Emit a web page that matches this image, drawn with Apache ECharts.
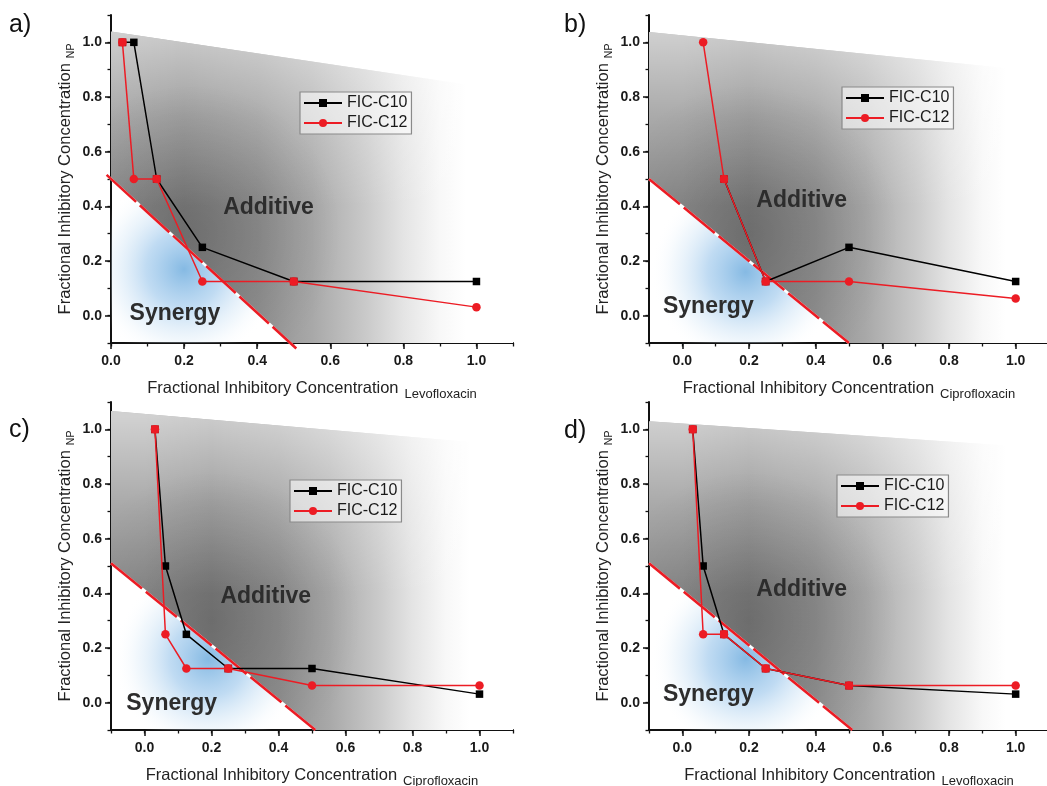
<!DOCTYPE html>
<html><head><meta charset="utf-8">
<script src="https://cdn.jsdelivr.net/npm/echarts@6/dist/echarts.min.js"></script>
<style>html,body{margin:0;padding:0;background:#fff}#chart{width:1047px;height:786px}</style>
</head><body><div id="chart"></div>
<script>
const FONT = 'Arial, "Liberation Sans", sans-serif';
// ---------- data ----------
const panelLabels = ['a)', 'b)', 'c)', 'd)'];
const xDrugs = ['Levofloxacin', 'Ciprofloxacin', 'Ciprofloxacin', 'Levofloxacin'];
const yDrug = 'NP';
const seriesNames = ['FIC-C10', 'FIC-C12'];
const tickValues = [0, 0.2, 0.4, 0.6, 0.8, 1.0];
const xMins = [0, -0.1, -0.1, -0.1];
const aC10 = [[0.03125, 1.0], [0.0625, 1.0], [0.125, 0.5], [0.25, 0.25], [0.5, 0.125], [1.0, 0.125]];
const aC12 = [[0.03125, 1.0], [0.0625, 0.5], [0.125, 0.5], [0.25, 0.125], [0.5, 0.125], [1.0, 0.03125]];
const bC10 = [[0.125, 0.5], [0.25, 0.125], [0.5, 0.25], [1.0, 0.125]];
const bC12 = [[0.0625, 1.0], [0.125, 0.5], [0.25, 0.125], [0.5, 0.125], [1.0, 0.0625]];
const cC10 = [[0.03125, 1.0], [0.0625, 0.5], [0.125, 0.25], [0.25, 0.125], [0.5, 0.125], [1.0, 0.03125]];
const cC12 = [[0.03125, 1.0], [0.0625, 0.25], [0.125, 0.125], [0.25, 0.125], [0.5, 0.0625], [1.0, 0.0625]];
const dC10 = [[0.03125, 1.0], [0.0625, 0.5], [0.125, 0.25], [0.25, 0.125], [0.5, 0.0625], [1.0, 0.03125]];
const dC12 = [[0.03125, 1.0], [0.0625, 0.25], [0.125, 0.25], [0.25, 0.125], [0.5, 0.0625], [1.0, 0.0625]];
const panelC10 = [aC10, bC10, cC10, dC10];
const panelC12 = [aC12, bC12, cC12, dC12];

// ---------- layout / decoration ----------
const grids = [
  {left: 111, top: 15, width: 402, height: 328},
  {left: 649, top: 15, width: 400, height: 328},
  {left: 111, top: 402, width: 402, height: 328},
  {left: 649, top: 402, width: 400, height: 328}
];
const legendPos = [[300, 92], [842, 87], [290, 480], [837, 475]];
const letterPos = [[9, 25], [564, 25], [9, 430], [564, 431]];
const decor = [
  {top: [1.04, 0.82], dash: [[-0.012, 0.515], [0.507, -0.12]], additive: [0.431, 0.394], synergy: [0.175, 0.006], dark: [0.22, 0.3], blue: [0.2, 0.17]},
  {top: [1.038, 0.89], dash: [[-0.1, 0.5], [0.5, -0.1]], additive: [0.358, 0.421], synergy: [0.078, 0.032], dark: [0.2, 0.3], blue: [0.19, 0.16]},
  {top: [1.067, 0.94], dash: [[-0.1, 0.51], [0.51, -0.1]], additive: [0.362, 0.387], synergy: [0.081, -0.002], dark: [0.2, 0.3], blue: [0.19, 0.16]},
  {top: [1.03, 0.93], dash: [[-0.1, 0.51], [0.51, -0.1]], additive: [0.358, 0.415], synergy: [0.078, 0.028], dark: [0.2, 0.3], blue: [0.19, 0.16]}
];
const RED = '#ec1c24';

function bgRender(g) {
  return function (params, api) {
    const d = decor[g], xmin = xMins[g], xmax = 1.1, ymin = -0.1;
    const P = (x, y) => api.coord([x, y]);
    const [[dx0, dy0], [dx1, dy1]] = d.dash;
    const slope = (dy1 - dy0) / (dx1 - dx0);
    const yAtXmin = dy0 + slope * (xmin - dx0);
    const xAtYmin = dx0 + (ymin - dy0) / slope;
    const grayPts = [P(xmin, d.top[0]), P(xmax, d.top[1]), P(xmax, ymin), P(xAtYmin, ymin), P(xmin, yAtXmin)];
    const bluePts = [P(xmin, yAtXmin), P(xAtYmin, ymin), P(xmin, ymin)];
    const x0 = P(0, 0)[0], x1 = P(1, 0)[0];
    const yTop = P(0, 1.05)[1], yMid = P(0, 0.4)[1];
    const dk = P(d.dark[0], d.dark[1]);
    const bl = P(d.blue[0], d.blue[1]);
    const p0 = P(dx0, dy0), p1 = P(dx1, dy1);
    const ad = P(d.additive[0], d.additive[1]);
    const sy = P(d.synergy[0], d.synergy[1]);
    return {
      type: 'group',
      children: [
        {type: 'polygon', shape: {points: grayPts}, style: {fill: {type: 'linear', x: x0, y: 0, x2: x1, y2: 0, global: true,
          colorStops: [
            {offset: 0, color: '#8d8d8d'}, {offset: 0.2, color: '#808080'}, {offset: 0.4, color: '#909090'},
            {offset: 0.55, color: '#a8a8a8'}, {offset: 0.7, color: '#cacaca'}, {offset: 0.8, color: '#e4e4e4'},
            {offset: 0.9, color: '#f8f8f8'}, {offset: 0.97, color: '#ffffff'}]}}},
        {type: 'polygon', shape: {points: grayPts}, style: {fill: {type: 'linear', x: 0, y: yTop, x2: 0, y2: yMid, global: true,
          colorStops: [{offset: 0, color: 'rgba(255,255,255,0.6)'}, {offset: 0.5, color: 'rgba(255,255,255,0.25)'}, {offset: 1, color: 'rgba(255,255,255,0)'}]}}},
        {type: 'polygon', shape: {points: grayPts}, style: {fill: {type: 'radial', x: dk[0], y: dk[1], r: 150, global: true,
          colorStops: [{offset: 0, color: 'rgba(0,0,0,0.15)'}, {offset: 1, color: 'rgba(0,0,0,0)'}]}}},
        {type: 'polygon', shape: {points: bluePts}, style: {fill: {type: 'radial', x: bl[0], y: bl[1], r: 95, global: true,
          colorStops: [{offset: 0, color: 'rgba(120,178,224,0.9)'}, {offset: 0.4, color: 'rgba(158,200,236,0.65)'},
            {offset: 0.75, color: 'rgba(210,230,246,0.3)'}, {offset: 1, color: 'rgba(255,255,255,0)'}]}}},
        {type: 'line', shape: {x1: p0[0], y1: p0[1], x2: p1[0], y2: p1[1]}, style: {stroke: '#ffffff', lineWidth: 2.6}},
        {type: 'line', shape: {x1: p0[0], y1: p0[1], x2: p1[0], y2: p1[1]}, style: {stroke: RED, lineWidth: 2.6, lineDash: [40, 5]}},
        {type: 'text', style: {text: 'Additive', x: ad[0], y: ad[1], align: 'center', verticalAlign: 'middle', font: 'bold 23px ' + FONT, fill: '#2d2d2d'}},
        {type: 'text', style: {text: 'Synergy', x: sy[0], y: sy[1], align: 'center', verticalAlign: 'middle', font: 'bold 23px ' + FONT, fill: '#2d2d2d'}}
      ]
    };
  };
}

function sameKey(p) { return p[0] + ',' + p[1]; }

const xAxis = [], yAxis = [], series = [], legend = [], graphic = [];
for (let g = 0; g < 4; g++) {
  const nameRich = {
    m: {fontSize: 16.5, fontFamily: FONT, color: '#222'},
    s: {fontSize: 13, fontFamily: FONT, color: '#222', padding: [12, 0, 0, 6]}
  };
  const nameRichY = {
    m: {fontSize: 16.5, fontFamily: FONT, color: '#222'},
    s: {fontSize: 10.5, fontFamily: FONT, color: '#222', padding: [12, 0, 0, 5]}
  };
  const labelStyle = {customValues: tickValues, formatter: v => v.toFixed(1), color: '#1a1a1a', fontSize: 14, fontWeight: 'bold', fontFamily: FONT};
  xAxis.push({
    gridIndex: g, type: 'value', min: xMins[g], max: 1.1, position: 'bottom',
    axisLine: {show: true, onZero: false, lineStyle: {color: '#111', width: 2}},
    axisTick: {show: true, customValues: tickValues, length: 6, lineStyle: {color: '#111', width: 1.5}},
    axisLabel: Object.assign({margin: 11}, labelStyle),
    splitLine: {show: false},
    name: '{m|Fractional Inhibitory Concentration}{s|' + xDrugs[g] + '}',
    nameLocation: 'middle', nameGap: 33, nameMoveOverlap: false,
    nameTextStyle: {rich: nameRich}
  });
  xAxis.push({
    gridIndex: g, type: 'value', min: xMins[g], max: 1.1, interval: 0.1, position: 'bottom',
    axisLine: {show: false, onZero: false}, axisLabel: {show: false}, splitLine: {show: false},
    axisTick: {show: true, length: 3.5, lineStyle: {color: '#111', width: 1.3}}
  });
  yAxis.push({
    gridIndex: g, type: 'value', min: -0.1, max: 1.1, position: 'left',
    axisLine: {show: true, onZero: false, lineStyle: {color: '#111', width: 2}},
    axisTick: {show: true, customValues: tickValues, length: 6, lineStyle: {color: '#111', width: 1.5}},
    axisLabel: Object.assign({margin: 9}, labelStyle),
    splitLine: {show: false},
    name: '{m|Fractional Inhibitory Concentration}{s|' + yDrug + '}',
    nameLocation: 'middle', nameGap: 34, nameMoveOverlap: false,
    nameTextStyle: {rich: nameRichY}
  });
  yAxis.push({
    gridIndex: g, type: 'value', min: -0.1, max: 1.1, interval: 0.1, position: 'left',
    axisLine: {show: false, onZero: false}, axisLabel: {show: false}, splitLine: {show: false},
    axisTick: {show: true, length: 3.5, lineStyle: {color: '#111', width: 1.3}}
  });
  const xi = 2 * g, yi = 2 * g;
  series.push({
    type: 'custom', name: 'bg' + g, xAxisIndex: xi, yAxisIndex: yi, data: [[0, 0]], clip: false, silent: true, z: 1,
    renderItem: bgRender(g)
  });
  series.push({
    type: 'line', name: seriesNames[0], xAxisIndex: xi, yAxisIndex: yi, data: panelC10[g], z: 3,
    symbol: 'rect', symbolSize: 7.5, color: '#000', itemStyle: {color: '#000'},
    lineStyle: {color: '#000', width: 1.5}, animation: false
  });
  series.push({
    type: 'line', name: seriesNames[1], xAxisIndex: xi, yAxisIndex: yi, data: panelC12[g], z: 4,
    symbol: 'circle', symbolSize: 8.5, color: RED, itemStyle: {color: RED},
    lineStyle: {color: RED, width: 1.5}, animation: false
  });
  const c12Keys = new Set(panelC12[g].map(sameKey));
  series.push({
    type: 'scatter', name: 'overlap' + g, xAxisIndex: xi, yAxisIndex: yi, z: 5,
    data: panelC10[g].filter(p => c12Keys.has(sameKey(p))),
    symbol: 'rect', symbolSize: 8, itemStyle: {color: RED}, animation: false
  });
  legend.push({
    data: seriesNames, left: legendPos[g][0], top: legendPos[g][1], orient: 'vertical',
    itemWidth: 38, itemHeight: 10, itemGap: 4, padding: [3, 4, 3, 3], selectedMode: false,
    borderColor: '#8a8a8a', borderWidth: 1.2, backgroundColor: 'rgba(255,255,255,0.55)',
    textStyle: {fontSize: 16, color: '#1a1a1a', fontFamily: FONT}
  });
  graphic.push({
    type: 'text', x: letterPos[g][0], y: letterPos[g][1],
    style: {text: panelLabels[g], font: '25px ' + FONT, fill: '#111', verticalAlign: 'middle'}
  });
}

const chart = echarts.init(document.getElementById('chart'), null, {renderer: 'canvas'});
chart.setOption({
  animation: false,
  backgroundColor: '#ffffff',
  grid: grids.map(g => Object.assign({outerBoundsMode: 'none', containLabel: false}, g)),
  xAxis, yAxis, series, legend, graphic
});
</script></body></html>
